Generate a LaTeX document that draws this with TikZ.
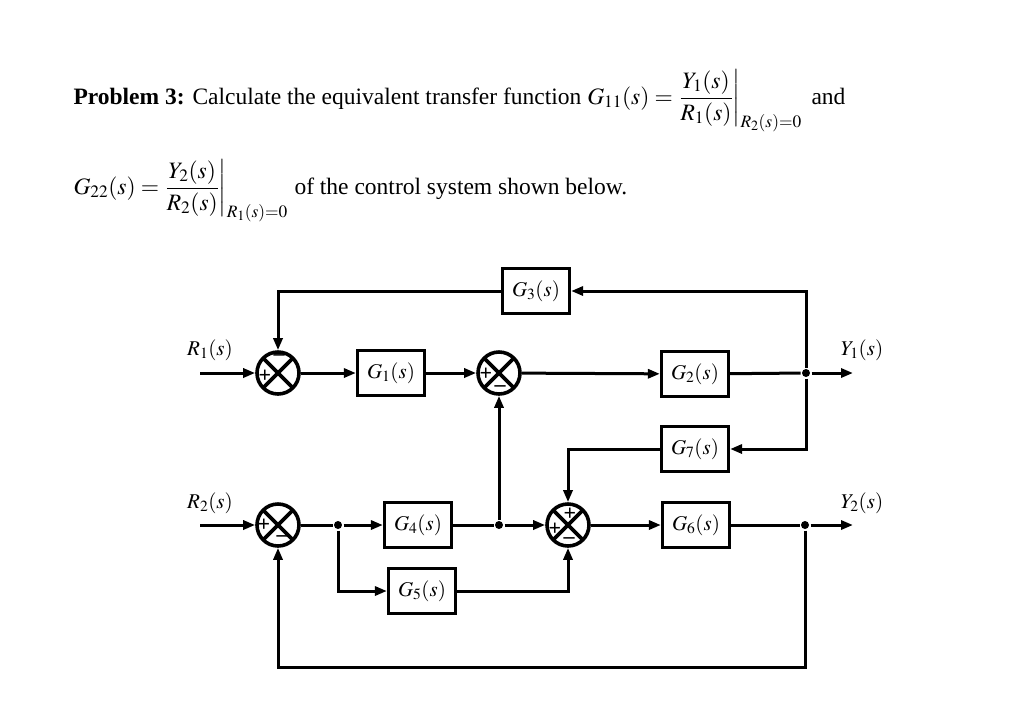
\documentclass[tikz,border=0pt]{standalone}
\usepackage{mathptmx}
\usepackage{fontspec}
\setmainfont{Liberation Serif}
\usetikzlibrary{arrows.meta}

\tikzset{
  block/.style={draw,line width=3.2pt,minimum width=67pt,minimum height=45pt,inner sep=0pt,font=\fontsize{21}{24}\selectfont},
  sumnode/.style={circle,draw,line width=3.6pt,minimum size=42pt,inner sep=0pt,
    path picture={\draw[line width=3.6pt] (path picture bounding box.south west) -- (path picture bounding box.north east)
      (path picture bounding box.north west) -- (path picture bounding box.south east);}},
  dot/.style={circle,fill,minimum size=8pt,inner sep=0pt},
  sgn/.style={inner sep=0pt,font=\fontsize{22}{22}\bfseries},
  sig/.style={font=\fontsize{21}{24}\selectfont},
  txt/.style={anchor=base west,inner sep=0pt,font=\fontsize{23.5}{27}\selectfont},
}

\begin{document}
\begin{tikzpicture}[x=1pt,y=-1pt,line width=3pt,>={Triangle[length=12pt,width=9pt]}]
        \useasboundingbox[fill=white] (0,0) rectangle (1035,724);

        % problem text
        \node[txt] at (72,104) (title)
            {\textbf{Problem 3:} Calculate the equivalent transfer function $\displaystyle G_{11}(s)=\left.\frac{Y_1(s)}{R_1(s)}\right|_{R_2(s)=0}$};
        \node[txt] at (810,104) (and) {and};
        \node[txt] at (72,194) (g22)
            {$\displaystyle G_{22}(s)=\left.\frac{Y_2(s)}{R_2(s)}\right|_{R_1(s)=0}$};
        \node[txt] at (293,194) (txt2) {of the control system shown below.};

        % blocks and summing points
        \node[sumnode] at (278,373) (s1) {};
        \node[block] at (391,373) (g1) {$G_1(s)$};
        \node[sumnode] at (499,373) (s2) {};
        \node[block] at (536,291) (g3) {$G_3(s)$};
        \node[block] at (695,374) (g2) {$G_2(s)$};
        \node[block] at (695,449) (g7) {$G_7(s)$};
        \node[sumnode] at (278,525) (s4) {};
        \node[block] at (418,525) (g4) {$G_4(s)$};
        \node[block] at (422,591) (g5) {$G_5(s)$};
        \node[sumnode] at (568,525) (s3) {};
        \node[block] at (696,525) (g6) {$G_6(s)$};

        % branch points
        \node[dot] at (806,373) (j1) {};
        \node[dot] at (805,525) (j2) {};
        \node[dot] at (338,525) (b1) {};
        \node[dot] at (499,525) (b2) {};
        \coordinate (r1) at (200,373);
        \coordinate (y1) at (853,373);
        \coordinate (r2) at (200,525);
        \coordinate (y2) at (853,525);
        \coordinate (bot) at (805,667);

        % signals
        \node[sig] at (210,350) (r1l) {$R_1(s)$};
        \node[sig] at (862,350) (y1l) {$Y_1(s)$};
        \node[sig] at (210,503) (r2l) {$R_2(s)$};
        \node[sig] at (862,503) (y2l) {$Y_2(s)$};

        % signs
        \node[sgn] at (265,376) (s1p) {+};
        \node[sgn] at (279,358) (s1m) {--};
        \node[sgn] at (486,374) (s2p) {+};
        \node[sgn] at (500,389) (s2m) {--};
        \node[sgn] at (264,525) (s4p) {+};
        \node[sgn] at (282,539) (s4m) {--};
        \node[sgn] at (555,529) (s3p) {+};
        \node[sgn] at (570,514) (s3q) {+};
        \node[sgn] at (569,541) (s3m) {--};

        % connectors
        \draw[->] (r1) -- (s1);
        \draw[->] (s1) -- (g1);
        \draw[->] (g1) -- (s2);
        \draw[->] (s2) -- (g2);
        \draw (g2) -- (j1);
        \draw[->] (j1) -- (y1);
        \draw[->] (j1) |- (g3);
        \draw[->] (g3) -| (s1);
        \draw[->] (j1) |- (g7);
        \draw[->] (g7) -| (s3);
        \draw[->] (r2) -- (s4);
        \draw (s4) -- (b1);
        \draw[->] (b1) -- (g4);
        \draw[->] (b1) |- (g5);
        \draw (g4) -- (b2);
        \draw[->] (b2) -- (s3);
        \draw[->] (b2) -- (s2);
        \draw[->] (g5) -| (s3);
        \draw[->] (s3) -- (g6);
        \draw (g6) -- (j2);
        \draw[->] (j2) -- (y2);
        \draw[->] (j2) -- (bot) -| (s4);
    \end{tikzpicture}
\end{document}
